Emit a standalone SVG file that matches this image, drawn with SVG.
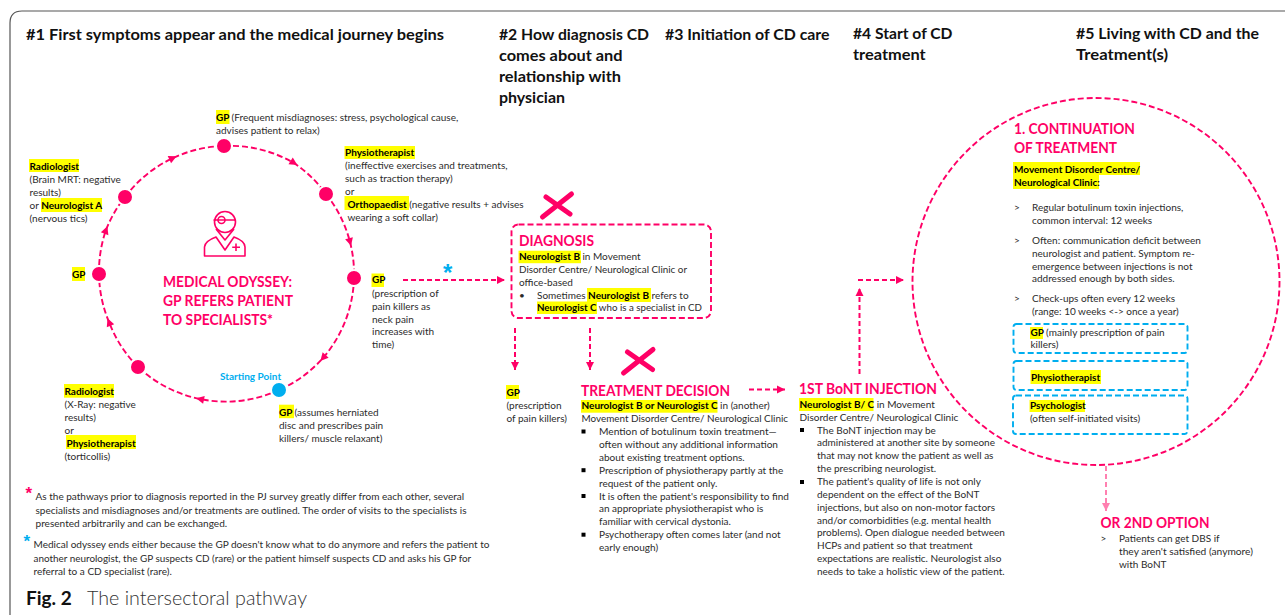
<svg xmlns="http://www.w3.org/2000/svg" width="1285" height="615" viewBox="0 0 1285 615">
<style>
text{font-family:"Lato","Liberation Sans",sans-serif;font-size:10px;fill:#2b2b2b}
.b{font-weight:700;fill:#000}
.hd{font-weight:700;font-size:15.8px;fill:#111}
.pk{font-weight:700;font-size:15.5px;fill:#ff0066}
.ast{font-family:"Liberation Sans",sans-serif;font-weight:700}
.h{fill:#ffff00;stroke:none}
.dash{fill:none;stroke:#ff0066;stroke-width:1.9;stroke-dasharray:6 3}
.st{fill:none;stroke:#ff0066;stroke-width:2;stroke-dasharray:5 3}
.bx{fill:none;stroke:#00aeef;stroke-width:1.9;stroke-dasharray:6 3}
.dot{fill:#ff0066;stroke:#fff;stroke-width:2}
.x{stroke:#ff0066;stroke-width:5;stroke-linecap:round;fill:none}
.ic{fill:none;stroke:#ff0066;stroke-width:1.6;stroke-linejoin:round}
.sq{fill:#000}
</style>
<defs>
<marker id="ar" markerUnits="userSpaceOnUse" markerWidth="11" markerHeight="11" refX="5" refY="5" orient="auto"><path d="M1 1L9 5L1 9Z" fill="#ff0066"/></marker>
<marker id="ae" markerUnits="userSpaceOnUse" markerWidth="11" markerHeight="11" refX="9" refY="5" orient="auto"><path d="M1 1L9 5L1 9Z" fill="#ff0066"/></marker>
<marker id="al" markerUnits="userSpaceOnUse" markerWidth="11" markerHeight="11" refX="9" refY="5" orient="auto"><path d="M1 1L9 5L1 9Z" fill="#ff80b0"/></marker>
</defs>
<path id="frame" d="M10 615V23Q10 11 22 11H1285" fill="none" stroke="#555" stroke-width="1.2"/>
<g id="headers">
<text class="hd" x="26" y="40" textLength="418" lengthAdjust="spacingAndGlyphs">#1 First symptoms appear and the medical journey begins</text>
<text class="hd" x="499" y="39.500" textLength="150" lengthAdjust="spacingAndGlyphs">#2 How diagnosis CD</text>
<text class="hd" x="499" y="60.500" textLength="123.500" lengthAdjust="spacingAndGlyphs">comes about and</text>
<text class="hd" x="499" y="81.500" textLength="122" lengthAdjust="spacingAndGlyphs">relationship with</text>
<text class="hd" x="499" y="102.500" textLength="66" lengthAdjust="spacingAndGlyphs">physician</text>
<text class="hd" x="665" y="40" textLength="164.500" lengthAdjust="spacingAndGlyphs">#3 Initiation of CD care</text>
<text class="hd" x="853" y="39" textLength="99.500" lengthAdjust="spacingAndGlyphs">#4 Start of CD</text>
<text class="hd" x="853" y="60" textLength="72.700" lengthAdjust="spacingAndGlyphs">treatment</text>
<text class="hd" x="1076" y="39" textLength="183" lengthAdjust="spacingAndGlyphs">#5 Living with CD and the</text>
<text class="hd" x="1076" y="60" textLength="92" lengthAdjust="spacingAndGlyphs">Treatment(s)</text>
</g>
<g id="connectors">
<path class="dash" marker-mid="url(#ar)" d="M279 390A127.5 127.5 0 0 1 200 399A127.5 127.5 0 0 1 138 367"/>
<path class="dash" marker-mid="url(#ar)" d="M138 367A127.5 127.5 0 0 1 109 322A127.5 127.5 0 0 1 99 274"/>
<path class="dash" marker-mid="url(#ar)" d="M99 274A127.5 127.5 0 0 1 106 230A127.5 127.5 0 0 1 125 197"/>
<path class="dash" marker-mid="url(#ar)" d="M125 197A127.5 127.5 0 0 1 173 158A127.5 127.5 0 0 1 224 146"/>
<path class="dash" marker-mid="url(#ar)" d="M224 146A127.5 127.5 0 0 1 294 163A127.5 127.5 0 0 1 326 194"/>
<path class="dash" marker-mid="url(#ar)" d="M326 194A127.5 127.5 0 0 1 350 242A127.5 127.5 0 0 1 354 278"/>
<path class="dash" marker-mid="url(#ar)" d="M354 278A127.5 127.5 0 0 1 323 358A127.5 127.5 0 0 1 279 390"/>
<path class="st" marker-end="url(#ae)" d="M403 280H505"/>
<path class="st" marker-end="url(#ae)" d="M515 328V370"/>
<path class="st" marker-end="url(#ae)" d="M590 328V370"/>
<path class="st" marker-end="url(#ae)" d="M749 389.500H785"/>
<path class="st" marker-end="url(#ae)" d="M859.500 374V288"/>
<path class="st" marker-end="url(#ae)" d="M858 280H904"/>
<path class="st" marker-end="url(#al)" style="stroke:#ff80b0" d="M1106 466V511"/>
</g>
<g id="odyssey">
<g class="ic"><circle cx="225" cy="222" r="10.500"/><circle cx="221.500" cy="220" r="3.500"/><path d="M213.500 220H236M216 229L225 240L234 229M204.500 256V247Q205 241 216 237L225 250L234 237Q245 241 245 247V256ZM236 243.500V251M232.200 247.200H240"/></g>
<text class="pk" x="163" y="287" textLength="129" lengthAdjust="spacingAndGlyphs">MEDICAL ODYSSEY:</text>
<text class="pk" x="163" y="306" textLength="130" lengthAdjust="spacingAndGlyphs">GP REFERS PATIENT</text>
<text class="pk" x="163" y="325" textLength="110" lengthAdjust="spacingAndGlyphs">TO SPECIALISTS*</text>
</g>
<g id="n-top"><circle class="dot" cx="224" cy="146" r="8"/><rect class="h" x="216" y="110" width="13.500" height="14"/>
<text x="216" y="121"><tspan class="b">GP </tspan>(Frequent misdiagnoses: stress, psychological cause,</text><text x="216" y="134">advises patient to relax)</text></g>
<g id="n-rt"><circle class="dot" cx="326" cy="194" r="8"/><rect class="h" x="344.500" y="146" width="70.500" height="13"/><rect class="h" x="344.500" y="196" width="64.500" height="14"/>
<text class="b" x="345" y="156">Physiotherapist</text><text x="345" y="169">(ineffective exercises and treatments,</text><text x="345" y="182">such as traction therapy)</text><text x="345" y="194.700">or</text><text x="347.500" y="207.600"><tspan class="b">Orthopaedist </tspan>(negative results + advises</text><text x="347.500" y="220.500">wearing a soft collar)</text></g>
<g id="n-r"><circle class="dot" cx="354" cy="278" r="8"/><rect class="h" x="371.500" y="273.500" width="12.500" height="13.500"/>
<text class="b" x="372" y="283">GP</text><text x="372" y="296.500">(prescription of</text><text x="372" y="309.500">pain killers as</text><text x="372" y="322.500">neck pain</text><text x="372" y="335">increases with</text><text x="372" y="348">time)</text></g>
<g id="n-start"><circle cx="279" cy="390" r="8" fill="#00aeef" stroke="#fff" stroke-width="2"/><text x="220" y="380" style="font-weight:700;fill:#00aeef">Starting Point</text><rect class="h" x="279" y="404.700" width="15" height="13.500"/>
<text x="279" y="415.500"><tspan class="b">GP </tspan>(assumes herniated</text><text x="279" y="428.500">disc and prescribes pain</text><text x="279" y="441.500">killers/ muscle relaxant)</text></g>
<g id="n-bl"><circle class="dot" cx="138" cy="367" r="8"/><rect class="h" x="64" y="384" width="50" height="13.700"/><rect class="h" x="66" y="435" width="70" height="14"/>
<text class="b" x="64.500" y="395">Radiologist</text><text x="64.500" y="408">(X-Ray: negative</text><text x="64.500" y="421">results)</text><text x="64.500" y="434">or</text><text class="b" x="66.500" y="447">Physiotherapist</text><text x="64.500" y="460">(torticollis)</text></g>
<g id="n-l"><circle class="dot" cx="99" cy="274" r="8"/><rect class="h" x="72" y="267" width="13" height="14"/><text class="b" x="72" y="278">GP</text></g>
<g id="n-ul"><circle class="dot" cx="125" cy="197" r="8"/><rect class="h" x="29" y="159" width="50" height="13"/><rect class="h" x="41" y="198" width="61" height="14"/>
<text class="b" x="29.500" y="170">Radiologist</text><text x="29.500" y="183">(Brain MRT: negative</text><text x="29.500" y="196">results)</text><text x="29.500" y="209">or <tspan class="b">Neurologist A</tspan></text><text x="29.500" y="222">(nervous tics)</text></g>
<g id="notes">
<text class="ast" x="25.500" y="499" style="fill:#ff0066;font-size:17px">*</text>
<text x="35.500" y="499.500" textLength="428.700" lengthAdjust="spacingAndGlyphs">As the pathways prior to diagnosis reported in the PJ survey greatly differ from each other, several</text>
<text x="35.500" y="513.500" textLength="431" lengthAdjust="spacingAndGlyphs">specialists and misdiagnoses and/or treatments are outlined. The order of visits to the specialists is</text>
<text x="35.500" y="526.500" textLength="191.700" lengthAdjust="spacingAndGlyphs">presented arbitrarily and can be exchanged.</text>
<text class="ast" x="23.500" y="547" style="fill:#00aeef;font-size:17px">*</text>
<text x="33.500" y="547.500" textLength="456" lengthAdjust="spacingAndGlyphs">Medical odyssey ends either because the GP doesn't know what to do anymore and refers the patient to</text>
<text x="33.500" y="561.500" textLength="437.700" lengthAdjust="spacingAndGlyphs">another neurologist, the GP suspects CD (rare) or the patient himself suspects CD and asks his GP for</text>
<text x="33.500" y="574.500" textLength="138.300" lengthAdjust="spacingAndGlyphs">referral to a CD specialist (rare).</text>
</g>
<g id="caption"><text x="26" y="605" style="font-weight:700;font-size:19px;fill:#111">Fig. 2</text><text x="87" y="605" textLength="220" lengthAdjust="spacingAndGlyphs" style="font-weight:300;font-size:20px;fill:#333">The intersectoral pathway</text></g>
<g id="diagnosis">
<rect class="dash" x="511.500" y="224.500" width="199.500" height="93.500" rx="7"/>
<path class="x" d="M542.500 217L571.500 194M546 197L570 214"/>
<text class="pk" x="519" y="245.500" textLength="75" lengthAdjust="spacingAndGlyphs">DIAGNOSIS</text>
<rect class="h" x="518.500" y="250.700" width="62.500" height="12.500"/><rect class="h" x="587" y="288" width="64" height="14"/><rect class="h" x="537" y="301.500" width="60" height="12.500"/>
<text x="519" y="260"><tspan class="b">Neurologist B </tspan>in Movement</text><text x="519" y="273" textLength="168" lengthAdjust="spacingAndGlyphs">Disorder Centre/ Neurological Clinic or</text><text x="519" y="285.700">office-based</text>
<text x="519" y="298.500">•</text><text x="537" y="298.500">Sometimes <tspan class="b">Neurologist B </tspan>refers to</text><text x="537" y="311" textLength="165" lengthAdjust="spacingAndGlyphs"><tspan class="b">Neurologist C </tspan>who is a specialist in CD</text>
<text class="ast" x="443" y="281" style="fill:#00aeef;font-size:24px">*</text>
</g>
<g id="gp-prescription"><rect class="h" x="506" y="385" width="13" height="14"/><text class="b" x="506.500" y="395.700">GP</text><text x="506.500" y="408.700">(prescription</text><text x="506.500" y="421.500">of pain killers)</text></g>
<g id="treatment">
<path class="x" d="M623.500 373L653 349.500M627.500 352L652.500 369.500"/>
<text class="pk" x="581" y="396" textLength="149" lengthAdjust="spacingAndGlyphs">TREATMENT DECISION</text>
<rect class="h" x="581" y="400" width="136.500" height="12.700"/>
<text x="581.500" y="409.300"><tspan class="b">Neurologist B or Neurologist C </tspan>in (another)</text><text x="581.500" y="422" textLength="206.500" lengthAdjust="spacingAndGlyphs">Movement Disorder Centre/ Neurological Clinic</text>
<rect class="sq" x="581.500" y="429.500" width="4" height="4"/><rect class="sq" x="581.500" y="468.200" width="4" height="4"/><rect class="sq" x="581.500" y="494" width="4" height="4"/><rect class="sq" x="581.500" y="532.700" width="4" height="4"/>
<text x="599" y="435" textLength="177.700" lengthAdjust="spacingAndGlyphs">Mention of botulinum toxin treatment—</text><text x="599" y="447.900" textLength="179" lengthAdjust="spacingAndGlyphs">often without any additional information</text><text x="599" y="460.800">about existing treatment options.</text><text x="599" y="473.700">Prescription of physiotherapy partly at the</text><text x="599" y="486.600">request of the patient only.</text><text x="599" y="499.500">It is often the patient's responsibility to find</text><text x="599" y="512.400">an appropriate physiotherapist who is</text><text x="599" y="525.300">familiar with cervical dystonia.</text><text x="599" y="538.200">Psychotherapy often comes later (and not</text><text x="599" y="551.100">early enough)</text>
</g>
<g id="injection">
<text class="pk" x="799" y="393.500" textLength="138" lengthAdjust="spacingAndGlyphs">1ST BoNT INJECTION</text>
<rect class="h" x="799" y="398" width="74.500" height="13"/>
<text x="799.500" y="407.700"><tspan class="b">Neurologist B/ C </tspan>in Movement</text><text x="799.500" y="420.500">Disorder Centre/ Neurological Clinic</text>
<rect class="sq" x="800" y="428" width="4" height="4"/><rect class="sq" x="800" y="480" width="4" height="4"/>
<text x="817" y="433.500">The BoNT injection may be</text><text x="817" y="446.400">administered at another site by someone</text><text x="817" y="459.200">that may not know the patient as well as</text><text x="817" y="472">the prescribing neurologist.</text><text x="817" y="484.900">The patient's quality of life is not only</text><text x="817" y="497.800">dependent on the effect of the BoNT</text><text x="817" y="510.600">injections, but also on non-motor factors</text><text x="817" y="523.500">and/or comorbidities (e.g. mental health</text><text x="817" y="536.300">problems). Open dialogue needed between</text><text x="817" y="549.200">HCPs and patient so that treatment</text><text x="817" y="562">expectations are realistic. Neurologist also</text><text x="817" y="574.900">needs to take a holistic view of the patient.</text>
</g>
<g id="continuation">
<circle class="dash" cx="1096" cy="281.500" r="183.500"/>
<text class="pk" x="1014" y="133.500" textLength="121" lengthAdjust="spacingAndGlyphs">1. CONTINUATION</text><text class="pk" x="1014" y="152.500" textLength="103" lengthAdjust="spacingAndGlyphs">OF TREATMENT</text>
<rect class="h" x="1013" y="162" width="127" height="13"/><rect class="h" x="1013" y="175" width="86" height="14"/>
<text class="b" x="1014" y="172.500">Movement Disorder Centre/</text><text class="b" x="1014" y="185.500">Neurological Clinic:</text>
<text x="1014" y="211">&gt;</text><text x="1032" y="211">Regular botulinum toxin injections,</text><text x="1032" y="224">common interval: 12 weeks</text>
<text x="1014" y="243.500">&gt;</text><text x="1032" y="243.500">Often: communication deficit between</text><text x="1032" y="256.500">neurologist and patient. Symptom re-</text><text x="1032" y="269.500">emergence between injections is not</text><text x="1032" y="282">addressed enough by both sides.</text>
<text x="1014" y="301.500">&gt;</text><text x="1032" y="301.500">Check-ups often every 12 weeks</text><text x="1032" y="314.500">(range: 10 weeks &lt;-&gt; once a year)</text>
</g>
<g id="box-gp"><rect class="bx" x="1013.500" y="324" width="174" height="29" rx="3"/><rect class="h" x="1030" y="327" width="13" height="12"/><text x="1030.500" y="335.500"><tspan class="b">GP </tspan>(mainly prescription of pain</text><text x="1030.500" y="348">killers)</text></g>
<g id="box-physio"><rect class="bx" x="1013.500" y="361" width="174" height="29" rx="3"/><rect class="h" x="1030.500" y="370" width="70.500" height="14"/><text class="b" x="1031" y="380.700">Physiotherapist</text></g>
<g id="box-psych"><rect class="bx" x="1013" y="395.500" width="174.500" height="38.500" rx="3"/><rect class="h" x="1029.500" y="400" width="55.500" height="12"/><text class="b" x="1030" y="409">Psychologist</text><text x="1030" y="422">(often self-initiated visits)</text></g>
<g id="option2"><text class="pk" x="1100.500" y="527.500" textLength="109" lengthAdjust="spacingAndGlyphs">OR 2ND OPTION</text><text x="1100.500" y="541.500">&gt;</text><text x="1119" y="541.500">Patients can get DBS if</text><text x="1119" y="555" textLength="134" lengthAdjust="spacingAndGlyphs">they aren't satisfied (anymore)</text><text x="1119" y="568">with BoNT</text></g>
</svg>
